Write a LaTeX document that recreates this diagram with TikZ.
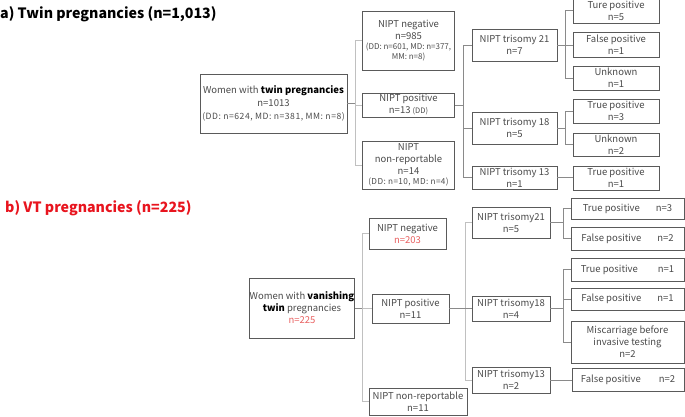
\documentclass[tikz,border=0pt]{standalone}
\usepackage{fontspec}
\setmainfont{Noto Sans CJK JP}
\definecolor{boxc}{HTML}{5A5A5A}
\definecolor{linec}{HTML}{8A8A8A}
\definecolor{lightc}{HTML}{C0C0C0}
\definecolor{txt}{HTML}{4A4A4A}
\definecolor{redt}{HTML}{E8141E}
\definecolor{redn}{HTML}{E86060}
\newcommand\smtxt{\fontsize{7.5}{9}\selectfont}
\newcommand\smtxtb{\fontsize{8}{9.5}\selectfont}
\newcommand\smtxtc{\fontsize{8.2}{9.5}\selectfont\addfontfeatures{LetterSpace=5}}
\newcommand\smtxtd{\fontsize{8.6}{10}\selectfont\addfontfeatures{LetterSpace=6}}
\begin{document}
\begin{tikzpicture}[x=1pt,y=-1pt,
  box/.style={draw=boxc, line width=0.7pt, inner sep=0pt, align=center, text=txt,
    font=\fontsize{9.5}{12}\selectfont},
  conn/.style={draw=linec, line width=0.7pt},
  lconn/.style={draw=lightc, line width=0.9pt},
  title/.style={anchor=west, inner sep=0pt, font=\fontsize{14.2}{17}\selectfont\bfseries}]
\useasboundingbox (0,0) rectangle (685,417);
% titles
\node[title] (ta) at (0,14) {a) Twin pregnancies (n=1,013)};
\node[title, text=redt] (tb) at (5,208) {b) VT pregnancies (n=225)};

% ---------- part a ----------
\node[box, minimum width=147, minimum height=59, font=\fontsize{9.5}{13}\selectfont] (A0) at (273.5,103.5)
  {Women with \textcolor{black}{\bfseries twin pregnancies}\\ n=1013\\ {\smtxtd (DD: n=624, MD: n=381, MM: n=8)}};
\node[box, minimum width=92, minimum height=59] (Aneg) at (408.5,40.5)
  {NIPT negative\\ n=985\\[-2pt] {\smtxtb (DD: n=601, MD: n=377,}\\[-2pt] {\smtxtb MM: n=8)}};
\node[box, minimum width=92, minimum height=24] (Apos) at (408.5,105)
  {NIPT positive\\ n=13 {\smtxt (DD)}};
\node[box, minimum width=92, minimum height=48] (Anr) at (408.5,165)
  {NIPT\\ non-reportable\\ n=14\\[-2pt] {\smtxtc (DD: n=10, MD: n=4)}};
\node[box, minimum width=85, minimum height=32] (T21) at (514.5,45) {NIPT trisomy 21\\ n=7};
\node[box, minimum width=85, minimum height=32] (T18) at (514.5,128) {NIPT trisomy 18\\ n=5};
\node[box, minimum width=85, minimum height=23] (T13) at (514.5,177.5) {NIPT trisomy 13\\ n=1};
\node[box, minimum width=86, minimum height=25] (O1) at (616,10.5) {Ture positive\\ n=5};
\node[box, minimum width=86, minimum height=25] (O2) at (616,44.5) {False positive\\ n=1};
\node[box, minimum width=86, minimum height=24] (O3) at (616,78) {Unknown\\ n=1};
\node[box, minimum width=86, minimum height=24] (O4) at (616,111) {True positive\\ n=3};
\node[box, minimum width=86, minimum height=23] (O5) at (616,144.5) {Unknown\\ n=2};
\node[box, minimum width=86, minimum height=24] (O6) at (616,178) {True positive\\ n=1};

\coordinate (ja) at (355,0);
\coordinate (jb) at (463,0);
\coordinate (jc) at (565,0);
\draw[lconn] (Aneg.west) -- (Aneg.west -| ja) -- (Anr.west -| ja) -- (Anr.west);
\draw[conn] (A0.east) -- (A0.east -| ja);
\draw[lconn] (Apos.west) -- (Apos.west -| ja);
\draw[conn] (T21.west) -- (T21.west -| jb) -- (T13.west -| jb) -- (T13.west);
\draw[conn] (Apos.east) -- (Apos.east -| jb);
\draw[conn] (T18.west) -- (T18.west -| jb);
\draw[conn] (O1.west) -- (O1.west -| jc) -- (O3.west -| jc) -- (O3.west);
\draw[conn] (T21.east) -- (O2.west |- T21.east);
\draw[conn] (O4.west) -- (O4.west -| jc) -- (O5.west -| jc) -- (O5.west);
\draw[conn] (T18.east) -- (T18.east -| jc);
\draw[conn] (T13.east) -- (O6.west |- T13.east);

% ---------- part b ----------
\node[box, minimum width=102, minimum height=60] (B0) at (302,308)
  {Women with \textcolor{black}{\bfseries vanishing}\\ \textcolor{black}{\bfseries twin} pregnancies\\ \textcolor{redn}{n=225}};
\node[box, minimum width=77, minimum height=31] (Bneg) at (407.5,233.5)
  {NIPT negative\\ \textcolor{redn}{n=203}};
\node[box, minimum width=77, minimum height=29] (Bpos) at (410.5,308.5)
  {NIPT positive\\ n=11};
\node[box, minimum width=98, minimum height=27] (Bnr) at (418,401.5)
  {NIPT non-reportable\\ n=11};
\node[box, minimum width=78, minimum height=31] (BT21) at (511,222.5) {NIPT trisomy21\\ n=5};
\node[box, minimum width=78, minimum height=25] (BT18) at (511,308.5) {NIPT trisomy18\\ n=4};
\node[box, minimum width=78, minimum height=26] (BT13) at (511,380) {NIPT trisomy13\\ n=2};
\node[box, minimum width=113, minimum height=21] (P1) at (627.5,208.5) {True positive\hspace{16pt}n=3};
\node[box, minimum width=113, minimum height=23] (P2) at (627.5,238.5) {False positive\hspace{16pt}n=2};
\node[box, minimum width=113, minimum height=23] (P3) at (627.5,269.5) {True positive\hspace{20pt}n=1};
\node[box, minimum width=113, minimum height=22] (P4) at (627.5,299) {False positive\hspace{16pt}n=1};
\node[box, minimum width=113, minimum height=42] (P5) at (627.5,342) {Miscarriage before\\ invasive testing\\ n=2};
\node[box, minimum width=112, minimum height=23] (P6) at (628,379.5) {False positive\hspace{18pt}n=2};

\coordinate (kb) at (362,0);
\coordinate (kc) at (465,0);
\coordinate (kd) at (563,0);
\draw[lconn] (Bneg.west) -- (Bneg.west -| kb) -- (Bnr.west -| kb) -- (Bnr.west);
\draw[conn] (B0.east) -- (B0.east -| kb);
\draw[lconn] (Bpos.west) -- (Bpos.west -| kb);
\draw[lconn] (BT21.west) -- (BT21.west -| kc) -- (BT13.west -| kc) -- (BT13.west);
\draw[conn] (Bpos.east) -- (BT18.west);
\draw[conn] (P1.west) -- (P1.west -| kd) -- (P2.west -| kd) -- (P2.west);
\draw[conn] (BT21.east) -- (BT21.east -| kd);
\draw[conn] (P3.west) -- (P3.west -| kd) -- (P5.west -| kd) -- (P5.west);
\draw[conn] (P4.west) -- (P4.west -| kd);
\draw[conn] (BT18.east) -- (BT18.east -| kd);
\draw[conn] (BT13.east) -- (P6.west |- BT13.east);
\end{tikzpicture}
\end{document}
